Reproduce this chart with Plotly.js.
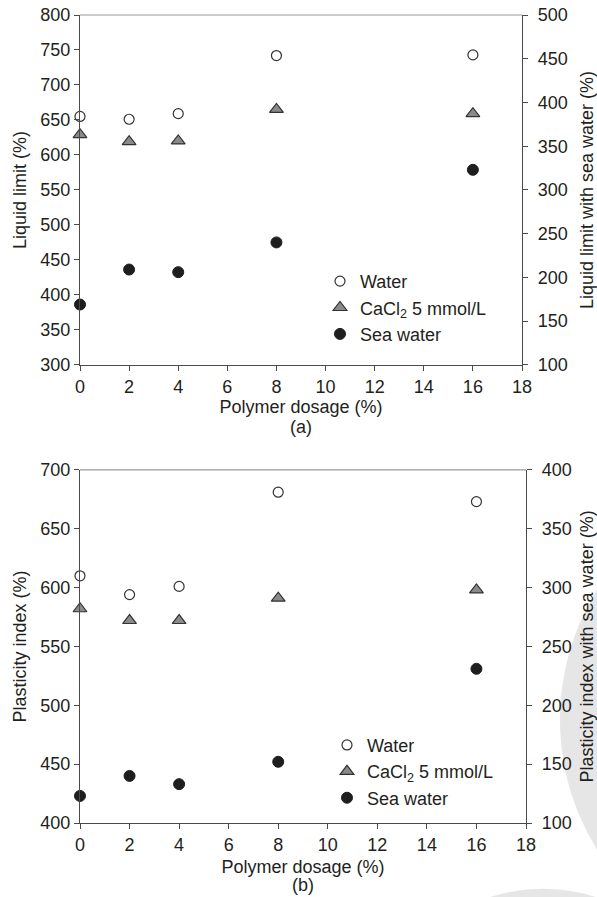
<!DOCTYPE html>
<html>
<head>
<meta charset="utf-8">
<script src="https://cdn.plot.ly/plotly-3.0.1.min.js"></script>
<style>html,body{margin:0;padding:0;background:#fff;}#chart{width:597px;height:897px;}</style>
</head>
<body>
<div id="chart"></div>
<script>
// ---- data ----
var dosage = [0, 2, 4, 8, 16];
var seriesNames = ['Water', 'CaCl<sub>2</sub> 5 mmol/L', 'Sea water'];
// (a) Liquid limit
var llWater = [655, 651, 659, 742, 743];
var llCaCl2 = [629, 619, 620, 665, 659];
var llSeaWater = [169, 209, 206, 240, 323];   // right axis
// (b) Plasticity index
var piWater = [610, 594, 601, 681, 673];
var piCaCl2 = [582, 572, 572, 591, 598];
var piSeaWater = [123, 140, 133, 152, 231];   // right axis

var xTicks = [0, 2, 4, 6, 8, 10, 12, 14, 16, 18];

// ---- styles ----
var FONT = 'Arial, "Liberation Sans", sans-serif';
var TXT = '#231f20';
var AX = '#4a4a4a';
var mWater = {symbol: 'circle', size: 10, color: '#ffffff', line: {color: '#333333', width: 1.2}};
var mCa = {symbol: 'triangle-up', size: 12, color: '#8a8a8a', line: {color: '#333333', width: 1.2}};
var mSea = {symbol: 'circle', size: 11, color: '#1e1e1e', line: {color: '#1e1e1e', width: 1}};

function tr(x, y, name, marker, xa, ya, leg) {
  return {x: x, y: y, name: name, type: 'scatter', mode: 'markers', marker: marker,
          xaxis: xa, yaxis: ya, legend: leg, cliponaxis: false, hoverinfo: 'x+y'};
}

var data = [
  tr(dosage, llWater, seriesNames[0], mWater, 'x', 'y', 'legend'),
  tr(dosage, llCaCl2, seriesNames[1], mCa, 'x', 'y', 'legend'),
  tr(dosage, llSeaWater, seriesNames[2], mSea, 'x', 'y2', 'legend'),
  tr(dosage, piWater, seriesNames[0], mWater, 'x2', 'y3', 'legend2'),
  tr(dosage, piCaCl2, seriesNames[1], mCa, 'x2', 'y3', 'legend2'),
  tr(dosage, piSeaWater, seriesNames[2], mSea, 'x2', 'y4', 'legend2')
];

function xax(domain, anchor, standoff) {
  return {domain: domain, anchor: anchor, range: [0, 18], tickvals: xTicks, ticks: 'outside', ticklen: 5,
    tickcolor: AX, showline: true, linecolor: AX, linewidth: 1.2, showgrid: false, zeroline: false,
    tickfont: {family: FONT, size: 18, color: TXT},
    title: {text: 'Polymer dosage (%)', font: {family: FONT, size: 18, color: TXT}, standoff: standoff}};
}
function yax(domain, anchor, range, title, side, overlay) {
  var a = {domain: domain, anchor: anchor, range: range, dtick: 50, ticks: 'outside', ticklen: 5,
    tickcolor: AX, showline: true, linecolor: AX, linewidth: 1.2, showgrid: false, zeroline: false,
    side: side, tickfont: {family: FONT, size: 18, color: TXT},
    title: {text: title, font: {family: FONT, size: 18, color: TXT}, standoff: side === 'right' ? 16 : 8}};
  if (side === 'right') a.ticklabelstandoff = 6;
  if (overlay) a.overlaying = overlay;
  return a;
}

var W = 597, H = 897, ml = 80, mr = 71, mt = 15, mb = 73.7;
var pw = W - ml - mr, ph = H - mt - mb;
function px(v) { return (v - ml) / pw; }
function py(v) { return (H - mb - v) / ph; }

var legendCommon = {font: {family: FONT, size: 18, color: TXT}, bgcolor: 'rgba(0,0,0,0)',
  borderwidth: 0, xanchor: 'left', yanchor: 'top', tracegroupgap: 0};

var layout = {
  width: W, height: H,
  margin: {l: ml, r: mr, t: mt, b: mb, pad: 0},
  paper_bgcolor: '#ffffff', plot_bgcolor: 'rgba(0,0,0,0)',
  showlegend: true,
  font: {family: FONT, size: 18, color: TXT},
  xaxis: xax([0, px(522)], 'y', 2),
  yaxis: yax([py(365), 1], 'x', [300, 800], 'Liquid limit (%)', 'left'),
  yaxis2: yax([py(365), 1], 'x', [100, 500], 'Liquid limit with sea water (%)', 'right', 'y'),
  xaxis2: xax([0, 1], 'y3', 6),
  yaxis3: yax([0, py(470)], 'x2', [400, 700], 'Plasticity index (%)', 'left'),
  yaxis4: yax([0, py(470)], 'x2', [100, 400], 'Plasticity index with sea water (%)', 'right', 'y3'),
  legend: Object.assign({x: px(320), y: py(263)}, legendCommon),
  legend2: Object.assign({x: px(327), y: py(727)}, legendCommon),
  annotations: [
    {text: '(a)', xref: 'paper', yref: 'paper', x: px(301), y: py(427), showarrow: false,
     font: {family: FONT, size: 18, color: TXT}},
    {text: '(b)', xref: 'paper', yref: 'paper', x: px(303), y: py(896), yanchor: 'bottom', showarrow: false,
     borderpad: 0, font: {family: FONT, size: 18, color: TXT}}
  ],
  shapes: [
    {type: 'circle', xref: 'paper', yref: 'paper', layer: 'below',
     x0: px(560), x1: px(1054), y0: py(473), y1: py(967), fillcolor: '#e6e6e6', line: {width: 0}},
    {type: 'circle', xref: 'paper', yref: 'paper', layer: 'below',
     x0: px(371), x1: px(715), y0: py(889), y1: py(1233), fillcolor: '#e6e6e6', line: {width: 0}},
    {type: 'line', xref: 'x domain', yref: 'y domain', x0: 0, x1: 1, y0: 1, y1: 1,
     line: {color: '#9a9a9a', width: 1.2}},
    {type: 'line', xref: 'x2 domain', yref: 'y3 domain', x0: 0, x1: 1, y0: 1, y1: 1,
     line: {color: '#9a9a9a', width: 1.2}}
  ]
};

Plotly.newPlot('chart', data, layout, {displayModeBar: false, staticPlot: true});
</script>
</body>
</html>
